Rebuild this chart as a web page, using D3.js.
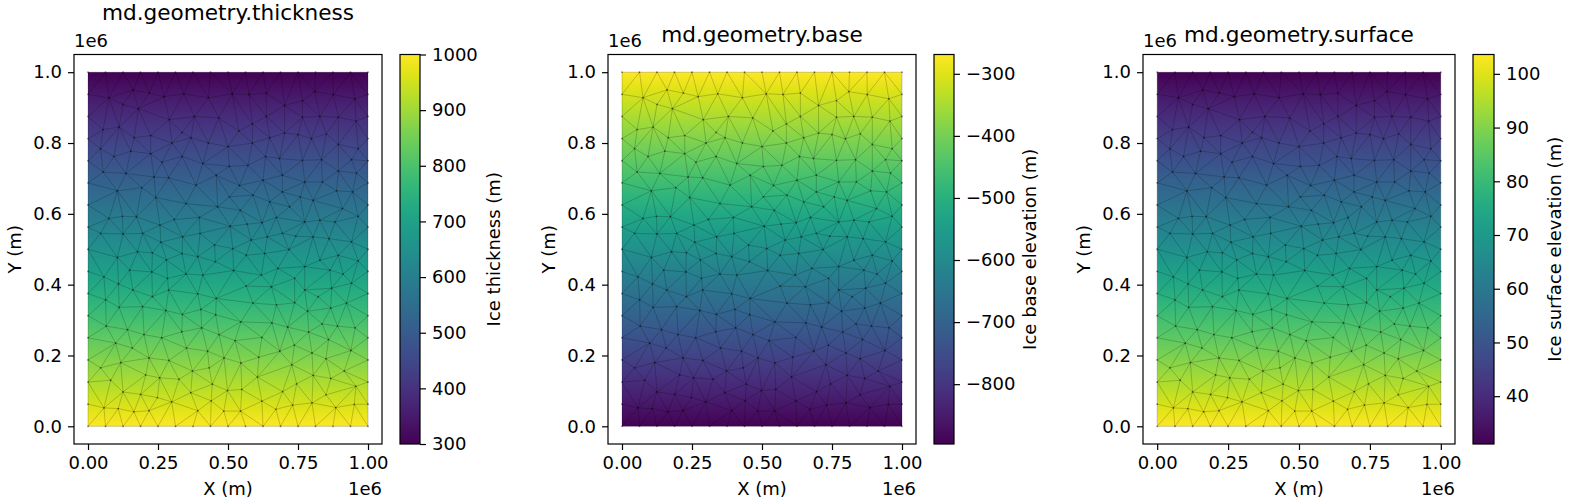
<!DOCTYPE html>
<html>
<head>
<meta charset="utf-8">
<title>md.geometry</title>
<script src="https://cdn.jsdelivr.net/npm/d3@7"></script>
<style>
  body { margin: 0; background: #fff; }
  text { font-family: "DejaVu Sans", sans-serif; fill: #000; }
</style>
</head>
<body>
<svg id="chart" width="1574" height="504"></svg>
<script>
// --- data ---
const titles = ['md.geometry.thickness', 'md.geometry.base', 'md.geometry.surface']
const cbarLabels = ['Ice thickness (m)', 'Ice base elevation (m)', 'Ice surface elevation (m)']
// colour limits of each colorbar
const vmin = [300, -896.4, 31.1]
const vmax = [1000, -268.9, 103.6]
// field value along the bottom edge (y = 0) and top edge (y = 1e6)
const valueAtBottom = [1000, -896.4, 103.6]
const valueAtTop = [300, -268.9, 31.1]
const cbarTicks = [
  [300, 400, 500, 600, 700, 800, 900, 1000],
  [-800, -700, -600, -500, -400, -300],
  [40, 50, 60, 70, 80, 90, 100]
]
const xTicks = [0, 0.25, 0.5, 0.75, 1]
const yTicks = [0, 0.2, 0.4, 0.6, 0.8, 1]

// mesh nodes, in units of 1e6 m
const boundaryStops = [0, 0.0625, 0.125, 0.1875, 0.25, 0.3125, 0.375, 0.4375, 0.5,
  0.5625, 0.625, 0.6875, 0.75, 0.8125, 0.875, 0.9375, 1]
const interiorNodes = [
  // upper band
  [.161,.950],[.219,.941],[.272,.931],[.342,.939],[.430,.928],[.075,.928],[.125,.909],[.180,.897],
  [.290,.866],[.467,.871],[.380,.875],[.336,.830],[.054,.838],[.111,.845],[.165,.815],[.224,.821],
  [.300,.800],[.368,.815],[.430,.800],[.045,.784],[.093,.762],[.153,.777],[.224,.770],[.264,.746],
  [.336,.762],[.410,.742],[.054,.718],[.135,.714],[.192,.674],[.236,.704],[.288,.702],[.386,.681],
  [.458,.709],[.500,.790],
  [.515,.939],[.575,.937],[.637,.941],[.702,.906],[.766,.920],[.810,.945],[.876,.937],[.953,.925],
  [.637,.875],[.587,.854],[.539,.834],[.702,.828],[.766,.873],[.828,.875],[.894,.873],[.957,.862],
  [.587,.800],[.649,.815],[.798,.812],[.894,.796],[.965,.784],[.750,.824],[.851,.826],
  [.505,.734],[.571,.737],[.634,.762],[.684,.756],[.766,.751],[.834,.753],[.941,.753],
  [.541,.680],[.625,.695],[.694,.709],[.774,.690],[.837,.690],[.894,.721],[.959,.715],
  // middle band
  [.105,.665],[.242,.646],[.350,.629],[.398,.590],[.463,.620],[.075,.587],[.123,.593],[.173,.592],
  [.257,.568],[.308,.584],[.045,.545],[.125,.543],[.195,.545],[.338,.535],[.452,.512],[.400,.545],
  [.105,.477],[.177,.493],[.230,.490],[.336,.488],[.392,.479],[.455,.465],[.057,.422],[.149,.441],
  [.228,.436],[.284,.418],[.410,.427],[.109,.402],[.280,.470],[.260,.520],[.160,.385],[.350,.430],
  [.230,.366],[.288,.385],[.392,.374],[.458,.361],[.195,.338],[.063,.357],
  [.505,.648],[.589,.653],[.649,.634],[.694,.662],[.758,.648],[.804,.638],[.888,.665],[.945,.662],
  [.544,.610],[.720,.620],[.909,.615],[.965,.593],[.508,.565],[.568,.571],[.622,.575],[.673,.590],
  [.774,.577],[.828,.582],[.882,.577],[.583,.526],[.694,.545],[.742,.537],[.804,.535],[.861,.530],
  [.941,.521],[.640,.535],[.631,.488],[.718,.499],[.828,.469],[.894,.483],[.965,.467],[.517,.502],
  [.565,.483],[.520,.440],[.619,.427],[.678,.446],[.738,.418],[.774,.451],[.911,.430],[.864,.441],
  [.565,.396],[.655,.394],[.774,.385],[.822,.366],[.870,.390],[.941,.404],[.589,.348],
  [.673,.343],[.738,.349],[.923,.348],
  // lower band
  [.111,.336],[.278,.327],[.337,.316],[.403,.330],[.456,.315],
  [.065,.283],[.141,.273],[.200,.259],[.263,.250],[.335,.267],[.406,.278],[.468,.259],[.099,.235],
  [.158,.221],[.218,.193],[.352,.221],[.427,.212],[.289,.186],[.373,.156],[.433,.165],[.486,.193],
  [.045,.165],[.117,.180],[.081,.130],[.206,.145],[.256,.137],[.325,.133],[.444,.119],
  [.299,.069],[.057,.052],[.108,.050],[.164,.041],[.125,.097],[.188,.090],[.248,.081],[.367,.095],
  [.440,.072],[.218,.044],[.392,.044],[.485,.043],[.545,.043],
  [.546,.295],[.713,.280],[.788,.266],[.836,.289],[.525,.242],[.621,.251],[.685,.212],[.859,.245],
  [.939,.214],[.546,.179],[.605,.139],[.728,.174],[.695,.098],[.745,.120],[.804,.144],[.957,.113],
  [.498,.101],[.621,.071],[.731,.060],[.800,.066],[.885,.053],[.951,.062],[.784,.325],[.867,.334],
  [.657,.292],[.891,.283],[.954,.278],[.737,.229],[.800,.207],[.850,.191],[.867,.135],[.915,.156],
  [.549,.104],[.850,.089],[.671,.048],[.610,.195]
]

// --- layout ---
const panels = [
  { left: 74, right: 382, cbLeft: 400, cbRight: 420, titleY: 20, labelX: 500 },
  { left: 608, right: 916, cbLeft: 934, cbRight: 954, titleY: 42, labelX: 1036 },
  { left: 1143, right: 1455, cbLeft: 1473, cbRight: 1494, titleY: 42, labelX: 1561 }
]
const plotTop = 54.5, plotBottom = 444
const fs = 18

// boundary nodes on the square's edges
const nodes = []
boundaryStops.forEach(s => {
  nodes.push([s, 0])
  nodes.push([s, 1])
  if (s > 0 && s < 1) {
    nodes.push([0, s])
    nodes.push([1, s])
  }
})
interiorNodes.forEach(p => nodes.push(p))

const svg = d3.select('#chart')
const defs = svg.append('defs')

panels.forEach((p, i) => {
  const x = d3.scaleLinear().domain([-0.05, 1.05]).range([p.left, p.right])
  const y = d3.scaleLinear().domain([-0.05, 1.05]).range([plotBottom, plotTop])
  const color = d3.scaleSequential(d3.interpolateViridis).domain([vmin[i], vmax[i]])
  const g = svg.append('g')

  // smooth field fill, linear in y
  const fillId = 'fill' + i
  const grad = defs.append('linearGradient')
    .attr('id', fillId)
    .attr('gradientUnits', 'userSpaceOnUse')
    .attr('x1', 0).attr('x2', 0)
    .attr('y1', y(0)).attr('y2', y(1))
  d3.range(0, 1.0001, 0.05).forEach(t => {
    const v = valueAtBottom[i] + (valueAtTop[i] - valueAtBottom[i]) * t
    grad.append('stop').attr('offset', t).attr('stop-color', color(v))
  })
  g.append('rect')
    .attr('x', x(0)).attr('y', y(1))
    .attr('width', x(1) - x(0)).attr('height', y(0) - y(1))
    .attr('fill', 'url(#' + fillId + ')')

  // triangle mesh
  const pix = nodes.map(d => [x(d[0]), y(d[1])])
  const delaunay = d3.Delaunay.from(pix)
  g.append('path')
    .attr('d', delaunay.render())
    .attr('fill', 'none')
    .attr('stroke', '#000')
    .attr('stroke-opacity', 0.28)
    .attr('stroke-width', 0.7)
  g.selectAll('circle.node')
    .data(pix)
    .enter()
    .append('circle')
    .attr('class', 'node')
    .attr('cx', d => d[0])
    .attr('cy', d => d[1])
    .attr('r', 0.9)
    .attr('fill', '#000')
    .attr('fill-opacity', 0.45)

  // axes frame
  g.append('rect')
    .attr('x', p.left).attr('y', plotTop)
    .attr('width', p.right - p.left).attr('height', plotBottom - plotTop)
    .attr('fill', 'none').attr('stroke', '#000').attr('stroke-width', 1.2)

  const xAxis = g.append('g')
    .attr('transform', 'translate(0,' + plotBottom + ')')
    .call(d3.axisBottom(x).tickValues(xTicks).tickFormat(d3.format('.2f')).tickSize(6).tickPadding(5))
  const yAxis = g.append('g')
    .attr('transform', 'translate(' + p.left + ',0)')
    .call(d3.axisLeft(y).tickValues(yTicks).tickFormat(d3.format('.1f')).tickSize(6).tickPadding(6))
  ;[xAxis, yAxis].forEach(a => {
    a.select('.domain').remove()
    a.selectAll('line').attr('stroke', '#000').attr('stroke-width', 1.2)
    a.selectAll('text').attr('font-size', fs).attr('font-family', '"DejaVu Sans", sans-serif').attr('fill', '#000')
  })
  xAxis.selectAll('text').attr('dy', '0.75em')

  // labels
  const cx = (p.left + p.right) / 2
  g.append('text').attr('x', cx).attr('y', p.titleY)
    .attr('text-anchor', 'middle').attr('font-size', 21.6).text(titles[i])
  g.append('text').attr('x', cx).attr('y', 495)
    .attr('text-anchor', 'middle').attr('font-size', fs).text('X (m)')
  g.append('text').attr('x', p.right).attr('y', 495)
    .attr('text-anchor', 'end').attr('font-size', fs).text('1e6')
  g.append('text').attr('x', p.left).attr('y', 46.5)
    .attr('font-size', fs).text('1e6')
  g.append('text')
    .attr('transform', 'translate(' + (p.left - 53) + ',' + ((plotTop + plotBottom) / 2) + ') rotate(-90)')
    .attr('text-anchor', 'middle').attr('font-size', fs).text('Y (m)')

  // colorbar
  const cbId = 'cb' + i
  const cbGrad = defs.append('linearGradient')
    .attr('id', cbId)
    .attr('x1', 0).attr('x2', 0).attr('y1', 1).attr('y2', 0)
  d3.range(0, 1.0001, 0.05).forEach(t => {
    cbGrad.append('stop').attr('offset', t).attr('stop-color', d3.interpolateViridis(t))
  })
  const cbScale = d3.scaleLinear().domain([vmin[i], vmax[i]]).range([plotBottom, plotTop])
  g.append('rect')
    .attr('x', p.cbLeft).attr('y', plotTop)
    .attr('width', p.cbRight - p.cbLeft).attr('height', plotBottom - plotTop)
    .attr('fill', 'url(#' + cbId + ')')
    .attr('stroke', '#000').attr('stroke-width', 1.2)
  const cbAxis = g.append('g')
    .attr('transform', 'translate(' + p.cbRight + ',0)')
    .call(d3.axisRight(cbScale).tickValues(cbarTicks[i]).tickFormat(d3.format('d')).tickSize(6).tickPadding(6))
  cbAxis.select('.domain').remove()
  cbAxis.selectAll('line').attr('stroke', '#000').attr('stroke-width', 1.2)
  cbAxis.selectAll('text').attr('font-size', fs).attr('font-family', '"DejaVu Sans", sans-serif').attr('fill', '#000')
  g.append('text')
    .attr('transform', 'translate(' + p.labelX + ',' + ((plotTop + plotBottom) / 2) + ') rotate(-90)')
    .attr('text-anchor', 'middle').attr('font-size', fs).text(cbarLabels[i])
})
</script>
</body>
</html>
